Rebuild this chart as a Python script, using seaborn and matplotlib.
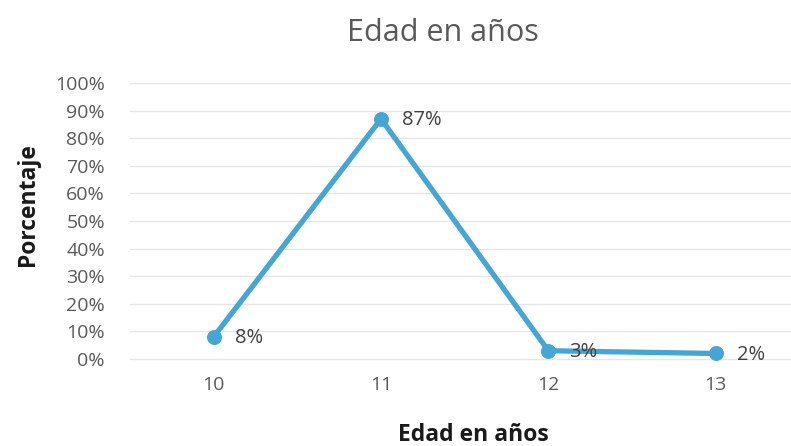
import matplotlib
matplotlib.use("Agg")
import matplotlib.pyplot as plt
import seaborn as sns
import pandas as pd
from matplotlib.ticker import PercentFormatter

edades = ["10", "11", "12", "13"]
porcentajes = [0.08, 0.87, 0.03, 0.02]
etiquetas = ["8%", "87%", "3%", "2%"]
yticks = [0.0, 0.1, 0.2, 0.3, 0.4, 0.5, 0.6, 0.7, 0.8, 0.9, 1.0]

sns.set_theme(style="white")
plt.rcParams["font.family"] = ["Open Sans", "DejaVu Sans"]

df = pd.DataFrame({"x": range(len(edades)), "y": porcentajes})

fig = plt.figure(figsize=(7.91, 4.46), dpi=100)
ax = fig.add_axes([130/791, (446-359)/446, (791-130)/791, (359-83)/446])

color = "#46A6D3"
sns.lineplot(data=df, x="x", y="y", ax=ax, color=color, linewidth=3.8,
             marker="o", markersize=10, markeredgecolor=color, markerfacecolor=color,
             clip_on=False)

for xi, yi, lab in zip(df["x"], df["y"], etiquetas):
    ax.annotate(lab, (xi, yi), xytext=(15, -1), textcoords="offset points",
                ha="left", va="center", fontsize=14.5, color="#404040")

ax.set_xlim(-0.5, 3.45)
ax.set_ylim(0, 1.0)
ax.set_yticks(yticks)
ax.yaxis.set_major_formatter(PercentFormatter(1.0, decimals=0))
ax.set_xticks(range(len(edades)))
ax.set_xticklabels(edades)
ax.tick_params(axis="both", length=0, labelsize=14, labelcolor="#595959")
ax.tick_params(axis="x", pad=12)
ax.tick_params(axis="y", pad=18)
ax.grid(axis="y", color="#E6E6E6", linewidth=1, clip_on=False)
ax.set_axisbelow(True)
for s in ax.spines.values():
    s.set_visible(False)
ax.set_xlabel("")
ax.set_ylabel("")

fig.text(443/791, 1 - 33/446, "Edad en años", ha="center", va="center",
         fontsize=22, color="#595959")
fig.text(473/791, 1 - 435/446, "Edad en años", ha="center", va="center",
         fontsize=16.5, fontweight="bold", color="#1a1a1a")
fig.text(28/791, 1 - 205/446, "Porcentaje", ha="center", va="center",
         rotation=90, fontsize=16.5, fontweight="bold", color="#1a1a1a")

fig.savefig("out.png", dpi=100)
